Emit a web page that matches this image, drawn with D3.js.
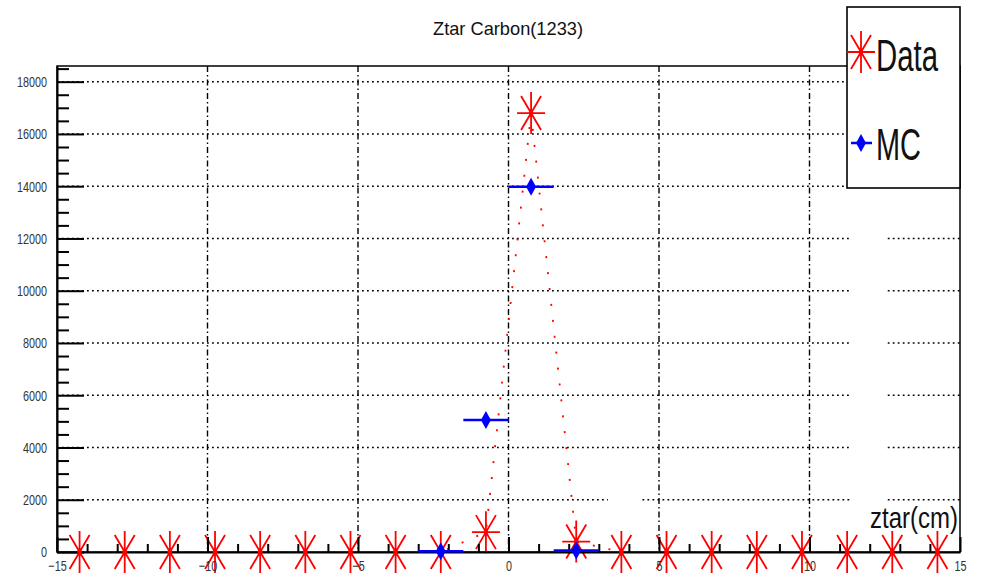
<!DOCTYPE html>
<html><head><meta charset="utf-8">
<script src="https://cdn.jsdelivr.net/npm/d3@7"></script>
<style>body{margin:0;background:#fff} svg{display:block}</style>
</head><body>
<svg id="chart" width="996" height="575"></svg>
<script>
// ---- data ----
const binCenters = [-14.25,-12.75,-11.25,-9.75,-8.25,-6.75,-5.25,-3.75,-2.25,-0.75,0.75,2.25,3.75,5.25,6.75,8.25,9.75,11.25,12.75,14.25];
const dataCounts = [0,0,0,0,0,0,0,0,0,760,16800,400,0,0,0,0,0,0,0,0];
const mcCounts   = [null,null,null,null,null,null,null,null,30,5050,13980,60,null,null,null,null,null,null,null,null];
const xMajorTicks = [-15,-10,-5,0,5,10,15];
const yMajorTicks = [0,2000,4000,6000,8000,10000,12000,14000,16000,18000];
const seriesNames = ["Data","MC"];
const titleText = "Ztar Carbon(1233)";
const xAxisTitle = "ztar(cm)";

const FONT = "'Liberation Sans', Arial, Helvetica, sans-serif";
const svg = d3.select("#chart");
const L = 57, R = 960, T = 66, B = 552;
const x = d3.scaleLinear().domain([-15, 15]).range([L, R]);
const y = d3.scaleLinear().domain([0, 18600]).range([B, T]);
const halfBin = (binCenters[1] - binCenters[0]) / 2;

function condense(sel, f) {
  sel.each(function () {
    const w = this.getComputedTextLength();
    d3.select(this).attr("textLength", w * f).attr("lengthAdjust", "spacingAndGlyphs");
  });
}

// ---- grid ----
const grid = svg.append("g");
const gapsFor = v => (v === 2000 ? [[3.3, 4.45], [11.4, 12.6]] : (v <= 12000 ? [[11.4, 12.6]] : []));
yMajorTicks.filter(v => v > 0).forEach(v => {
  let start = -15;
  const segs = [];
  gapsFor(v).forEach(g => { segs.push([start, g[0]]); start = g[1]; });
  segs.push([start, 15]);
  segs.forEach(s => grid.append("line")
    .attr("x1", x(s[0])).attr("x2", x(s[1])).attr("y1", y(v)).attr("y2", y(v))
    .attr("stroke", "#000").attr("stroke-width", 1.5).attr("stroke-dasharray", "1.8,3.2"));
});
xMajorTicks.filter(v => v > -15 && v < 15).forEach(v => {
  grid.append("line").attr("x1", x(v)).attr("x2", x(v)).attr("y1", T).attr("y2", B)
    .attr("stroke", "#000").attr("stroke-width", 1.4).attr("stroke-dasharray", "6,3,1.5,3");
});

// frame
svg.append("rect").attr("x", L).attr("y", T).attr("width", R - L).attr("height", B - T)
  .attr("fill", "none").attr("stroke", "#000").attr("stroke-width", 1.5);

// ---- data line (dotted) ----
const pts = binCenters.map((c, i) => ({ c, v: dataCounts[i] }));
svg.append("path").datum(pts)
  .attr("d", d3.line().x(d => x(d.c)).y(d => y(d.v)))
  .attr("fill", "none").attr("stroke", "#ff0000").attr("stroke-width", 1.8)
  .attr("stroke-dasharray", "2,14");

// star marker
function starPath(cx, cy) {
  return `M${cx},${cy-21}L${cx},${cy+21}M${cx-14},${cy}L${cx+14},${cy}` +
         `M${cx-10},${cy-17}L${cx+10},${cy+17}M${cx+10},${cy-17}L${cx-10},${cy+17}`;
}
svg.append("g").selectAll("path").data(pts).join("path")
  .attr("d", d => starPath(x(d.c), y(d.v)))
  .attr("stroke", "#ff0000").attr("stroke-width", 1.8).attr("fill", "none");

// ---- axes ----
const tickStyle = g => {
  g.selectAll("line").attr("stroke", "#000").attr("stroke-width", 2);
  g.selectAll("path.domain").attr("stroke", "#000").attr("stroke-width", 2);
};
const yMinor = d3.range(0, 18601, 500).filter(v => v % 2000 !== 0);
svg.append("g").attr("transform", `translate(${L},0)`)
  .call(d3.axisLeft(y).tickValues(yMinor).tickSizeInner(-12).tickSizeOuter(0).tickFormat(""))
  .call(tickStyle).call(g => g.select(".domain").remove());
const gy = svg.append("g").attr("transform", `translate(${L},0)`)
  .call(d3.axisLeft(y).tickValues(yMajorTicks).tickSizeInner(-27).tickSizeOuter(0).tickPadding(10).tickFormat(d3.format("d")))
  .call(tickStyle);
gy.selectAll("text").attr("font-family", FONT).attr("font-size", 15).attr("fill", "#333").call(condense, 0.72);

const xMinor = d3.range(-15, 15.01, 1).filter(v => v % 5 !== 0);
svg.append("g").attr("transform", `translate(0,${B})`)
  .call(d3.axisBottom(x).tickValues(xMinor).tickSizeInner(-8).tickSizeOuter(0).tickFormat(""))
  .call(tickStyle).call(g => g.select(".domain").remove());
const gx = svg.append("g").attr("transform", `translate(0,${B})`)
  .call(d3.axisBottom(x).tickValues(xMajorTicks).tickSizeInner(-15).tickSizeOuter(0).tickPadding(8))
  .call(tickStyle);
gx.selectAll("text").attr("font-family", FONT).attr("font-size", 15).attr("fill", "#333").call(condense, 0.72);

// center dots of stars
svg.append("g").selectAll("circle").data(pts).join("circle")
  .attr("cx", d => x(d.c)).attr("cy", d => y(d.v)).attr("r", 2.4).attr("fill", "#ff0000");

// ---- MC ----
const mc = binCenters.map((c, i) => ({ c, v: mcCounts[i] })).filter(d => d.v !== null);
const gmc = svg.append("g");
gmc.selectAll("line").data(mc).join("line")
  .attr("x1", d => x(d.c - halfBin)).attr("x2", d => x(d.c + halfBin))
  .attr("y1", d => y(d.v)).attr("y2", d => y(d.v))
  .attr("stroke", "#0000ff").attr("stroke-width", 2.5);
const diamond = (cx, cy) => `M${cx},${cy-9}L${cx+5},${cy}L${cx},${cy+9}L${cx-5},${cy}Z`;
gmc.selectAll("path").data(mc).join("path")
  .attr("d", d => diamond(x(d.c), y(d.v))).attr("fill", "#0000ff");

// ---- title & axis title ----
svg.append("text").attr("x", 508).attr("y", 35).attr("text-anchor", "middle")
  .attr("font-family", FONT).attr("font-size", 19).attr("fill", "#111")
  .attr("textLength", 150).attr("lengthAdjust", "spacingAndGlyphs").text(titleText);
svg.append("text").attr("x", 958).attr("y", 528).attr("text-anchor", "end")
  .attr("font-family", FONT).attr("font-size", 29).attr("fill", "#111")
  .attr("textLength", 88).attr("lengthAdjust", "spacingAndGlyphs").text(xAxisTitle);

// ---- legend ----
const lg = svg.append("g");
lg.append("rect").attr("x", 847).attr("y", 7).attr("width", 113).attr("height", 181)
  .attr("fill", "#fff").attr("stroke", "#000").attr("stroke-width", 1.6);
lg.append("path").attr("d", starPath(861, 52)).attr("stroke", "#ff0000").attr("stroke-width", 1.8);
lg.append("circle").attr("cx", 861).attr("cy", 52).attr("r", 2.4).attr("fill", "#ff0000");
lg.append("line").attr("x1", 851).attr("x2", 872).attr("y1", 143).attr("y2", 143)
  .attr("stroke", "#0000ff").attr("stroke-width", 2.5);
lg.append("path").attr("d", diamond(861, 143)).attr("fill", "#0000ff");
[[seriesNames[0], 71, 62], [seriesNames[1], 160, 45]].forEach(([t, yy, w]) => {
  lg.append("text").attr("x", 876).attr("y", yy).attr("font-family", FONT).attr("font-size", 44)
    .attr("fill", "#111").attr("textLength", w).attr("lengthAdjust", "spacingAndGlyphs").text(t);
});
</script>
</body></html>
